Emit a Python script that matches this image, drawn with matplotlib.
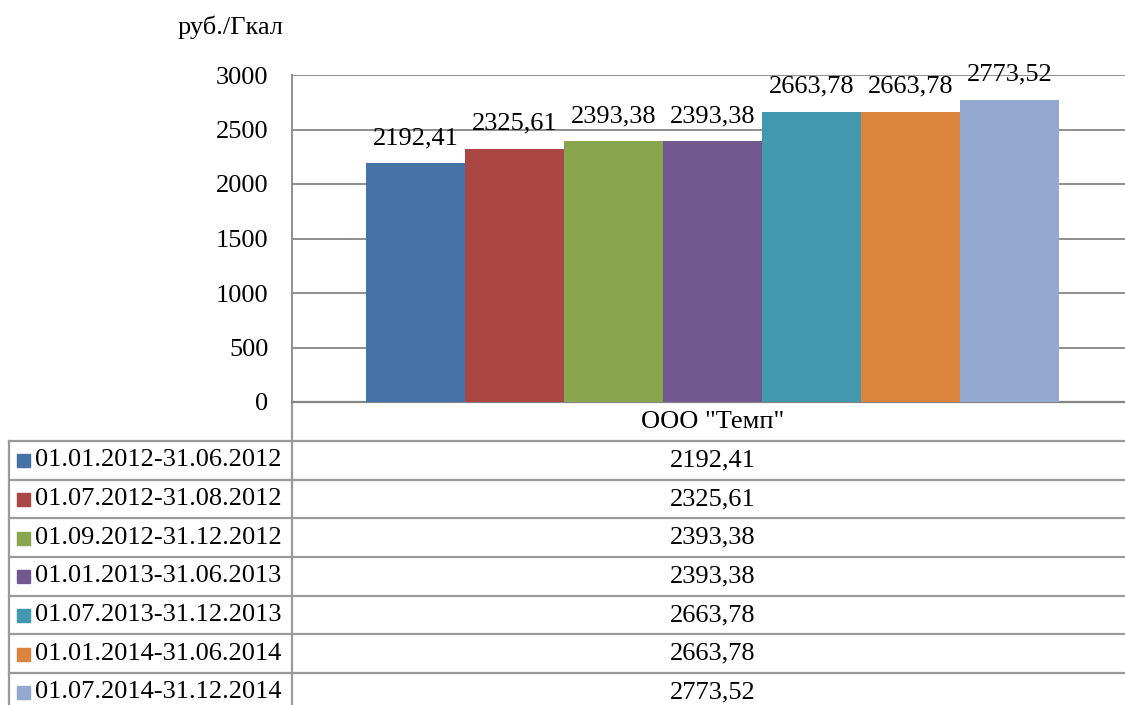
import matplotlib
matplotlib.use("Agg")
import matplotlib.pyplot as plt
from matplotlib.lines import Line2D
from matplotlib.patches import Rectangle

plt.rcParams['font.family'] = ['Liberation Serif', 'DejaVu Serif']

category = 'ООО "Темп"'
periods = [
    "01.01.2012-31.06.2012",
    "01.07.2012-31.08.2012",
    "01.09.2012-31.12.2012",
    "01.01.2013-31.06.2013",
    "01.07.2013-31.12.2013",
    "01.01.2014-31.06.2014",
    "01.07.2014-31.12.2014",
]
values = [2192.41, 2325.61, 2393.38, 2393.38, 2663.78, 2663.78, 2773.52]
colors = ["#4572A7", "#AA4643", "#89A54E", "#71588F", "#4198AF", "#DB843D", "#93A9CF"]
yticks = [0, 500, 1000, 1500, 2000, 2500, 3000]
unit_label = "руб./Гкал"

def fmt(v):
    return f"{v:.2f}".replace(".", ",")

W, H = 1125, 705
fig = plt.figure(figsize=(W / 100, H / 100), dpi=100)
FS = 19
grid_c = "#8e8e8e"
tbl_c = "#9a9a9a"

# plot area in pixels
left_px, right_px, top_px, zero_px = 292, 1133.5, 75, 402
ax = fig.add_axes([left_px / W, (H - zero_px) / H, (right_px - left_px) / W, (zero_px - top_px) / H])
n = len(values)
bw = 1 / 8.5
for i, (v, c) in enumerate(zip(values, colors)):
    x = (i - (n - 1) / 2) * bw
    ax.bar(x, v, width=bw, color=c, zorder=3)
    ax.annotate(fmt(v), (x, v), xytext=(0, 18), textcoords="offset points",
                ha="center", va="center", fontsize=FS, zorder=4, annotation_clip=False)
ax.set_xlim(-0.5, 0.5)
ax.set_ylim(0, 3000)
ax.set_yticks(yticks)
ax.set_yticklabels([str(t) for t in yticks], fontsize=FS)
ax.tick_params(axis="y", length=0, pad=17)
ax.set_xticks([])
ax.yaxis.grid(True, color=grid_c, linewidth=1.4, zorder=0)
for s in ["top", "right"]:
    ax.spines[s].set_visible(False)
ax.spines["left"].set_color(grid_c)
ax.spines["left"].set_linewidth(1.4)
ax.spines["bottom"].set_color("#858585")
ax.spines["bottom"].set_linewidth(1.6)
ax.patch.set_alpha(0)

fig.text(178 / W, 1 - 27 / H, unit_label, fontsize=FS, ha="left", va="center")

# data table in pixel coordinates
tx = fig.add_axes([0, 0, 1, 1], zorder=-1)
tx.set_xlim(0, W)
tx.set_ylim(H, 0)
tx.axis("off")
row_h = 38.67
hdr_top, hdr_bot = zero_px, 441
tbl_left = 8.5
col_center = (left_px + right_px) / 2
# vertical line through table
tx.add_line(Line2D([left_px, left_px], [hdr_top, H + 5], color=tbl_c, lw=1.6))
tx.add_line(Line2D([tbl_left, tbl_left], [hdr_bot, H + 5], color=tbl_c, lw=1.6))
tx.text(col_center, (hdr_top + hdr_bot) / 2, category, fontsize=FS, ha="center", va="center")
for k in range(n + 1):
    y = hdr_bot + k * row_h
    tx.add_line(Line2D([tbl_left, W + 5], [y, y], color=tbl_c, lw=1.6))
for k, (p, v, c) in enumerate(zip(periods, values, colors)):
    yc = hdr_bot + (k + 0.5) * row_h
    tx.add_patch(Rectangle((17, yc - 6), 13, 13, color=c))
    tx.text(35, yc, p, fontsize=FS, ha="left", va="center")
    tx.text(col_center, yc, fmt(v), fontsize=FS, ha="center", va="center")

fig.savefig("out.png", dpi=100)
